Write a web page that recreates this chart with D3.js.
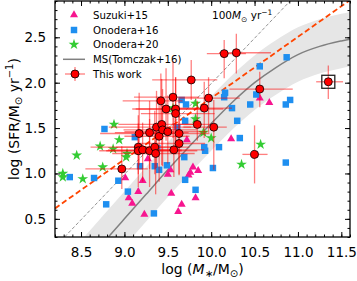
<!DOCTYPE html>
<html><head><meta charset="utf-8">
<script src="https://cdn.jsdelivr.net/npm/d3@7"></script>
<style>body{margin:0;background:#fff}svg{display:block}text{font-family:"DejaVu Sans",sans-serif}</style>
</head><body><svg id="c" width="357" height="281"></svg>
<script>
// ---------------- data ----------------
const xTicks = [8.5, 9.0, 9.5, 10.0, 10.5, 11.0, 11.5];
const yTicks = [0.5, 1.0, 1.5, 2.0, 2.5];
const legendLabels = ["Suzuki+15", "Onodera+16", "Onodera+20", "MS(Tomczak+16)", "This work"];

// Suzuki+15 (triangles)
const suzuki = [[9.01,0.95],[9.21,0.92],[9.16,0.80],[9.05,0.73],[9.09,0.67],[9.23,0.55],[9.27,1.16],
  [9.50,0.99],[9.53,1.04],[9.72,1.37],[9.79,1.07],[9.76,1.01],[9.74,0.98],[9.85,1.03],[9.54,0.78],
  [9.82,0.73],[9.66,0.66],[9.62,0.58],[10.23,1.38],[10.56,1.83],[10.67,1.78]];
// Onodera+16 (squares)
const onodera16 = [[8.37,0.96],[8.65,0.95],[8.77,1.49],[8.79,0.66],[8.93,0.92],[9.04,0.80],[9.12,1.40],
  [9.18,1.08],[9.34,0.56],[9.35,1.08],[9.38,1.28],[9.40,1.04],[9.49,1.09],[9.61,1.51],[9.66,1.81],
  [9.71,1.76],[9.70,1.58],[9.69,1.18],[9.70,0.93],[9.82,0.82],[9.92,1.29],[9.93,1.25],[10.02,1.06],
  [10.09,1.29],[10.16,1.89],[10.15,1.84],[10.24,1.72],[10.30,1.58],[10.33,1.39],[10.45,1.76],
  [10.52,1.87],[10.56,2.18],[10.87,2.28],[10.86,1.76],[10.91,1.81],[10.86,1.12]];
// Onodera+20 (stars)
const onodera20 = [[8.29,1.00],[8.29,0.96],[8.45,1.20],[8.52,0.94],[8.72,1.30],[8.75,1.07],[8.88,1.54],
  [8.87,1.27],[8.94,1.37],[9.02,1.18],[9.03,1.22],[9.82,1.77],[9.82,1.60],[9.91,1.45],[10.00,1.39],
  [10.57,1.32],[10.35,1.10],[9.56,1.72]];
const msX = [8.5, 8.75, 9.0, 9.25, 9.5, 9.75, 10.0, 10.25, 10.5, 10.75, 11.0, 11.25, 11.5, 11.6];
const msY = [-0.04, 0.23, 0.50, 0.77, 1.04, 1.30, 1.55, 1.79, 2.00, 2.17, 2.31, 2.40, 2.46, 2.48];
const msScatter = 0.3;
// orange dashed fit line and grey dashed 100 Msun/yr line (end points)
const fitLine = [[8.2, 0.615], [11.6, 2.91]];
const sfr100Line = [[8.31, 0.3], [10.91, 2.9]];
// This work: [logM, logSFR, xerrLow, xerrHigh, yerrLow, yerrHigh]
const thisWork = [
 [8.97,1.05,0.42,0.30,0.22,0.25],[9.16,1.29,0.55,0.40,0.30,0.35],[9.16,1.25,0.45,0.50,0.40,0.30],
 [9.21,1.26,0.40,0.45,0.35,0.30],[9.29,1.25,0.50,0.55,0.40,0.35],[9.35,1.29,0.45,0.40,0.30,0.40],
 [9.36,1.22,0.50,0.45,0.45,0.30],[9.57,1.26,0.40,0.35,0.30,0.35],[9.63,1.33,0.45,0.30,0.35,0.30],
 [9.17,1.44,0.45,0.40,0.35,0.45],[9.29,1.45,0.40,0.45,0.40,0.35],[9.37,1.51,0.55,0.40,0.45,0.40],
 [9.43,1.54,0.50,0.45,0.45,0.50],[9.40,1.41,0.40,0.35,0.50,0.35],[9.44,1.48,0.45,0.40,0.40,0.45],
 [9.50,1.46,0.50,0.45,0.35,0.40],[9.63,1.44,0.45,0.35,0.45,0.40],[9.42,1.80,0.44,0.25,0.40,0.30],
 [9.56,1.84,0.45,0.30,0.45,0.40],[9.48,1.71,0.35,0.40,0.35,0.45],[9.59,1.71,0.50,0.55,0.40,0.35],
 [9.59,1.66,0.40,0.45,0.45,0.40],[9.77,2.03,0.45,0.30,0.22,0.22],[9.97,1.83,0.33,0.36,0.38,0.23],
 [9.92,1.72,0.33,0.32,0.33,0.29],[9.84,1.54,0.20,0.18,0.18,0.26],[10.03,1.51,0.35,0.15,0.47,0.30],
 [10.15,2.32,0.20,0.25,0.27,0.15],[10.29,2.33,0.20,0.40,0.23,0.21],[10.56,1.93,0.35,0.38,0.20,0.19],
 [10.50,1.21,0.14,0.15,0.32,0.32],[11.35,2.01,0.14,0.17,0.19,0.18]];
const boxedPoint = [11.35, 2.01];

// ---------------- chart ----------------
const svg = d3.select("#c");
const L = 55, R = 350, T = 1, B = 237;
const x = d3.scaleLinear().domain([8.2, 11.6]).range([L, R]);
const y = d3.scaleLinear().domain([0.3, 2.9]).range([B, T]);

svg.append("defs").append("clipPath").attr("id", "clip")
  .append("rect").attr("x", L).attr("y", T).attr("width", R - L).attr("height", B - T);
const plot = svg.append("g").attr("clip-path", "url(#clip)");

const ms = msX.map((v, i) => [v, msY[i]]);
plot.append("path").datum(ms)
  .attr("d", d3.area().x(d => x(d[0])).y0(d => y(d[1] - msScatter)).y1(d => y(d[1] + msScatter)).curve(d3.curveMonotoneX))
  .attr("fill", "#e6e6e6");
plot.append("path").datum(ms)
  .attr("d", d3.line().x(d => x(d[0])).y(d => y(d[1])).curve(d3.curveMonotoneX))
  .attr("fill", "none").attr("stroke", "#808080").attr("stroke-width", 1.5);
const ln = d3.line().x(d => x(d[0])).y(d => y(d[1]));
plot.append("path").datum(sfr100Line).attr("d", ln).attr("fill", "none")
  .attr("stroke", "#888").attr("stroke-width", 0.9).attr("stroke-dasharray", "3.5,2");
plot.append("path").datum(fitLine).attr("d", ln).attr("fill", "none")
  .attr("stroke", "#ff4500").attr("stroke-width", 1.8).attr("stroke-dasharray", "5.5,3");

const tri = d3.symbol().type(d3.symbolTriangle).size(28);
const sq = d3.symbol().type(d3.symbolSquare).size(42);
const star = d3.symbol().type(d3.symbolStar).size(36);

plot.selectAll(".tri").data(suzuki).join("path").attr("d", tri)
  .attr("transform", d => `translate(${x(d[0])},${y(d[1])})`).attr("fill", "#f7158f");
plot.selectAll(".sq").data(onodera16).join("path").attr("d", sq)
  .attr("transform", d => `translate(${x(d[0])},${y(d[1])})`).attr("fill", "#1e8ff0");
plot.selectAll(".star").data(onodera20).join("path").attr("d", star)
  .attr("transform", d => `translate(${x(d[0])},${y(d[1])})`).attr("fill", "#33cc33");

const eb = plot.append("g").attr("stroke", "#ff0000").attr("stroke-opacity", 0.5).attr("stroke-width", 1.3);
thisWork.forEach(d => {
  eb.append("line").attr("x1", x(d[0] - d[2])).attr("x2", x(d[0] + d[3])).attr("y1", y(d[1])).attr("y2", y(d[1]));
  eb.append("line").attr("x1", x(d[0])).attr("x2", x(d[0])).attr("y1", y(d[1] - d[4])).attr("y2", y(d[1] + d[5]));
});
plot.selectAll(".tw").data(thisWork).join("circle")
  .attr("cx", d => x(d[0])).attr("cy", d => y(d[1])).attr("r", 4)
  .attr("fill", "#ff0000").attr("stroke", "#000").attr("stroke-width", 0.8);
plot.append("rect").attr("x", x(boxedPoint[0]) - 6.5).attr("y", y(boxedPoint[1]) - 6.5)
  .attr("width", 13).attr("height", 13).attr("fill", "none").attr("stroke", "#222").attr("stroke-width", 1.3);

// axes
function style(g, fs) {
  g.select(".domain").remove();
  g.selectAll("line").attr("stroke", "#000").attr("stroke-width", 1);
  g.attr("font-family", "DejaVu Sans").attr("font-size", fs);
  g.selectAll("text").attr("fill", "#000");
}
const minorX = d3.range(82, 117).map(d => d / 10);
const minorY = d3.range(3, 30).map(d => d / 10);
const f1 = d3.format(".1f");
svg.append("g").attr("transform", `translate(0,${B})`)
  .call(d3.axisBottom(x).tickValues(xTicks).tickFormat(f1).tickSize(-5).tickPadding(10)).call(g => style(g, 13.5));
svg.append("g").attr("transform", `translate(0,${B})`)
  .call(d3.axisBottom(x).tickValues(minorX).tickFormat("").tickSize(-2.5)).call(g => style(g, 10));
svg.append("g").attr("transform", `translate(0,${T})`)
  .call(d3.axisTop(x).tickValues(xTicks).tickFormat("").tickSize(-5)).call(g => style(g, 10));
svg.append("g").attr("transform", `translate(0,${T})`)
  .call(d3.axisTop(x).tickValues(minorX).tickFormat("").tickSize(-2.5)).call(g => style(g, 10));
svg.append("g").attr("transform", `translate(${L},0)`)
  .call(d3.axisLeft(y).tickValues(yTicks).tickFormat(f1).tickSize(-5).tickPadding(9)).call(g => style(g, 13.5));
svg.append("g").attr("transform", `translate(${L},0)`)
  .call(d3.axisLeft(y).tickValues(minorY).tickFormat("").tickSize(-2.5)).call(g => style(g, 10));
svg.append("g").attr("transform", `translate(${R},0)`)
  .call(d3.axisRight(y).tickValues(yTicks).tickFormat("").tickSize(-5)).call(g => style(g, 10));
svg.append("g").attr("transform", `translate(${R},0)`)
  .call(d3.axisRight(y).tickValues(minorY).tickFormat("").tickSize(-2.5)).call(g => style(g, 10));
svg.append("rect").attr("x", L).attr("y", T).attr("width", R - L).attr("height", B - T)
  .attr("fill", "none").attr("stroke", "#000").attr("stroke-width", 1.3);

// axis labels
const xl = svg.append("text").attr("x", (L + R) / 2).attr("y", 274).attr("text-anchor", "middle").attr("font-size", 14);
xl.append("tspan").text("log (");
xl.append("tspan").attr("font-style", "italic").text("M");
xl.append("tspan").attr("font-size", 10).attr("dy", 3).text("∗");
xl.append("tspan").attr("dy", -3).text("/M");
xl.append("tspan").attr("font-size", 10).attr("dy", 3).text("⊙");
xl.append("tspan").attr("dy", -3).text(")");

const yl = svg.append("text").attr("transform", `translate(19,${(T + B) / 2}) rotate(-90)`)
  .attr("text-anchor", "middle").attr("font-size", 14);
yl.append("tspan").text("log (SFR/M");
yl.append("tspan").attr("font-size", 10).attr("dy", 3).text("⊙");
yl.append("tspan").attr("dy", -3).text(" yr");
yl.append("tspan").attr("font-size", 10).attr("dy", -6).text("−1");
yl.append("tspan").attr("dy", 6).text(")");

// annotation
const an = svg.append("text").attr("x", 212).attr("y", 19).attr("font-size", 10.5);
an.append("tspan").text("100");
an.append("tspan").attr("font-style", "italic").text("M");
an.append("tspan").attr("font-size", 7.5).attr("dy", 2.5).text("⊙");
an.append("tspan").attr("dy", -2.5).text(" yr");
an.append("tspan").attr("font-size", 7.5).attr("dy", -4.5).text("−1");

// legend
const lg = svg.append("g");
const rows = [15, 30, 44.5, 59.3, 74];
lg.append("path").attr("d", tri).attr("transform", `translate(74,${rows[0]})`).attr("fill", "#f7158f");
lg.append("path").attr("d", sq).attr("transform", `translate(74,${rows[1]})`).attr("fill", "#1e8ff0");
lg.append("path").attr("d", star).attr("transform", `translate(74,${rows[2]})`).attr("fill", "#33cc33");
lg.append("line").attr("x1", 63).attr("x2", 85).attr("y1", rows[3]).attr("y2", rows[3])
  .attr("stroke", "#808080").attr("stroke-width", 1.5);
const le = lg.append("g").attr("stroke", "#ff0000").attr("stroke-opacity", 0.5).attr("stroke-width", 1.3);
le.append("line").attr("x1", 65).attr("x2", 85).attr("y1", rows[4]).attr("y2", rows[4]);
le.append("line").attr("x1", 75).attr("x2", 75).attr("y1", rows[4] - 7).attr("y2", rows[4] + 7);
lg.append("circle").attr("cx", 75).attr("cy", rows[4]).attr("r", 4).attr("fill", "#ff0000")
  .attr("stroke", "#000").attr("stroke-width", 0.8);
legendLabels.forEach((t, i) => {
  lg.append("text").attr("x", 93).attr("y", rows[i] + 3.7).attr("font-size", 10.2).text(t);
});
</script></body></html>
